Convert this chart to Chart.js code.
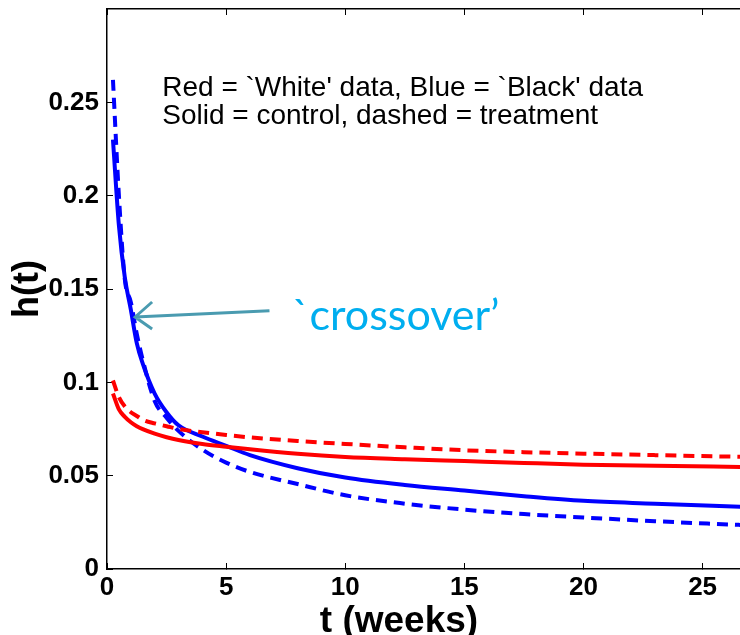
<!DOCTYPE html>
<html>
<head>
<meta charset="utf-8">
<script src="https://cdn.jsdelivr.net/npm/chart.js@4.4.1/dist/chart.umd.min.js"></script>
<style>
  html, body { margin: 0; padding: 0; background: #fff; }
</style>
</head>
<body>
<canvas id="hazardChart" width="740" height="635"></canvas>
<script>
// time in weeks, shared by all four curves
const weeks = [0.25, 0.5, 0.75, 1, 1.25, 1.5, 2, 2.5, 3, 4, 5, 6, 8, 10, 12.5, 15, 17.5, 20, 23, 26.6];

// hazard h(t)
const whiteControl   = [0.094, 0.0855, 0.0815, 0.0786, 0.0765, 0.0749, 0.0725, 0.0706, 0.0691, 0.0670, 0.0655, 0.0641, 0.0617, 0.0600, 0.0588, 0.0578, 0.0568, 0.0559, 0.0553, 0.0547];
const whiteTreatment = [0.101, 0.092, 0.087, 0.084, 0.082, 0.080, 0.078, 0.0765, 0.075, 0.0733, 0.0718, 0.0705, 0.0686, 0.0670, 0.0652, 0.0636, 0.0626, 0.0618, 0.0610, 0.0601];
const blackControl   = [0.230, 0.184, 0.156, 0.139, 0.121, 0.110, 0.094, 0.084, 0.077, 0.071, 0.066, 0.061, 0.054, 0.049, 0.045, 0.042, 0.039, 0.0365, 0.035, 0.0333];
const blackTreatment = [0.262, 0.200, 0.155, 0.143, 0.126, 0.112, 0.090, 0.081, 0.074, 0.064, 0.057, 0.052, 0.0455, 0.0395, 0.0350, 0.0318, 0.0294, 0.0276, 0.0256, 0.0236];

// axes
const xTicks = [0, 5, 10, 15, 20, 25];
const yTicks = [0, 0.05, 0.1, 0.15, 0.2, 0.25];
const yTickLabels = ['0', '0.05', '0.1', '0.15', '0.2', '0.25'];

// annotation text
const noteLines = ["Red = `White' data, Blue = `Black' data", 'Solid = control, dashed = treatment'];
const crossoverText = '`crossover\u2019';
const xTitle = 't (weeks)';

const FONT = '"Liberation Sans", Arial, Helvetica, sans-serif';

function toPoints(ys) {
    return weeks.map((t, i) => ({ x: t, y: ys[i] }));
}

function curve(ys, color, dashed) {
    return {
        data: toPoints(ys),
        borderColor: color,
        borderWidth: 4,
        borderDash: dashed ? [11, 7] : [],
        pointRadius: 0,
        fill: false,
        cubicInterpolationMode: 'monotone'
    };
}

// text notes, arrow and x title
const notesPlugin = {
    id: 'notes',
    afterDatasetsDraw(chart) {
        const { ctx, chartArea, scales: { x, y } } = chart;
        ctx.save();
        ctx.fillStyle = '#000';
        ctx.font = '28px ' + FONT;
        ctx.textBaseline = 'alphabetic';
        ctx.fillText(noteLines[0], x.getPixelForValue(2.32), y.getPixelForValue(0.2532));
        ctx.fillText(noteLines[1], x.getPixelForValue(2.32), y.getPixelForValue(0.2382));

        ctx.fillStyle = '#00aeef';
        ctx.font = '43px Lato, "Open Sans", sans-serif';
        ctx.fillText(crossoverText, x.getPixelForValue(7.78), y.getPixelForValue(0.1282));

        // arrow pointing at the crossing of the blue curves
        const x0 = x.getPixelForValue(6.82), y0 = y.getPixelForValue(0.1384);
        const x1 = x.getPixelForValue(1.18), y1 = y.getPixelForValue(0.135);
        ctx.strokeStyle = '#4a9bb0';
        ctx.lineWidth = 3;
        ctx.beginPath();
        ctx.moveTo(x0, y0);
        ctx.lineTo(x1, y1);
        ctx.moveTo(x1 + 17, y1 - 15);
        ctx.lineTo(x1, y1);
        ctx.lineTo(x1 + 17, y1 + 12);
        ctx.stroke();

        // x axis title
        ctx.fillStyle = '#000';
        ctx.font = 'bold 37px ' + FONT;
        ctx.textAlign = 'center';
        ctx.fillText(xTitle, chartArea.left + 292, chartArea.bottom + 63);
        ctx.restore();
    }
};

const ctx = document.getElementById('hazardChart').getContext('2d');

new Chart(ctx, {
    type: 'line',
    data: {
        datasets: [
            curve(whiteControl, '#ff0000', false),
            curve(whiteTreatment, '#ff0000', true),
            curve(blackControl, '#0000ff', false),
            curve(blackTreatment, '#0000ff', true)
        ]
    },
    options: {
        responsive: false,
        animation: false,
        events: [],
        layout: { padding: { top: 9, right: 0, left: 0, bottom: 0 } },
        plugins: {
            legend: { display: false },
            tooltip: { enabled: false }
        },
        scales: {
            x: {
                type: 'linear',
                min: 0,
                max: 26.57,
                afterBuildTicks: (axis) => { axis.ticks = xTicks.map(v => ({ value: v })); },
                afterFit: (axis) => { axis.height = 66; axis.paddingLeft = 0; axis.paddingRight = 0; },
                grid: { drawOnChartArea: false, tickLength: -6, color: '#000', lineWidth: 1 },
                border: { color: '#000', width: 1.5 },
                ticks: {
                    color: '#000',
                    padding: 9,
                    maxRotation: 0,
                    font: { family: FONT, size: 26, weight: 'bold' },
                    callback: (v) => String(v)
                }
            },
            x2: {
                type: 'linear',
                position: 'top',
                min: 0,
                max: 26.57,
                afterBuildTicks: (axis) => { axis.ticks = xTicks.map(v => ({ value: v })); },
                afterFit: (axis) => { axis.height = 0; },
                grid: { drawOnChartArea: false, tickLength: -6, color: '#000', lineWidth: 1 },
                border: { color: '#000', width: 1.5 },
                ticks: { display: false }
            },
            y: {
                min: 0,
                max: 0.3,
                afterBuildTicks: (axis) => { axis.ticks = yTicks.map(v => ({ value: v })); },
                afterFit: (axis) => { axis.width = 107; axis.paddingTop = 0; axis.paddingBottom = 0; },
                grid: { drawOnChartArea: false, tickLength: -6, color: '#000', lineWidth: 1 },
                border: { color: '#000', width: 1.5 },
                ticks: {
                    color: '#000',
                    padding: 14,
                    font: { family: FONT, size: 26, weight: 'bold' },
                    callback: (v) => yTickLabels[yTicks.indexOf(v)]
                },
                title: {
                    display: true,
                    text: 'h(t)',
                    color: '#000',
                    font: { family: FONT, size: 36, weight: 'bold' },
                    padding: { top: 6, bottom: 0 }
                }
            }
        }
    },
    plugins: [notesPlugin]
});
</script>
</body>
</html>
